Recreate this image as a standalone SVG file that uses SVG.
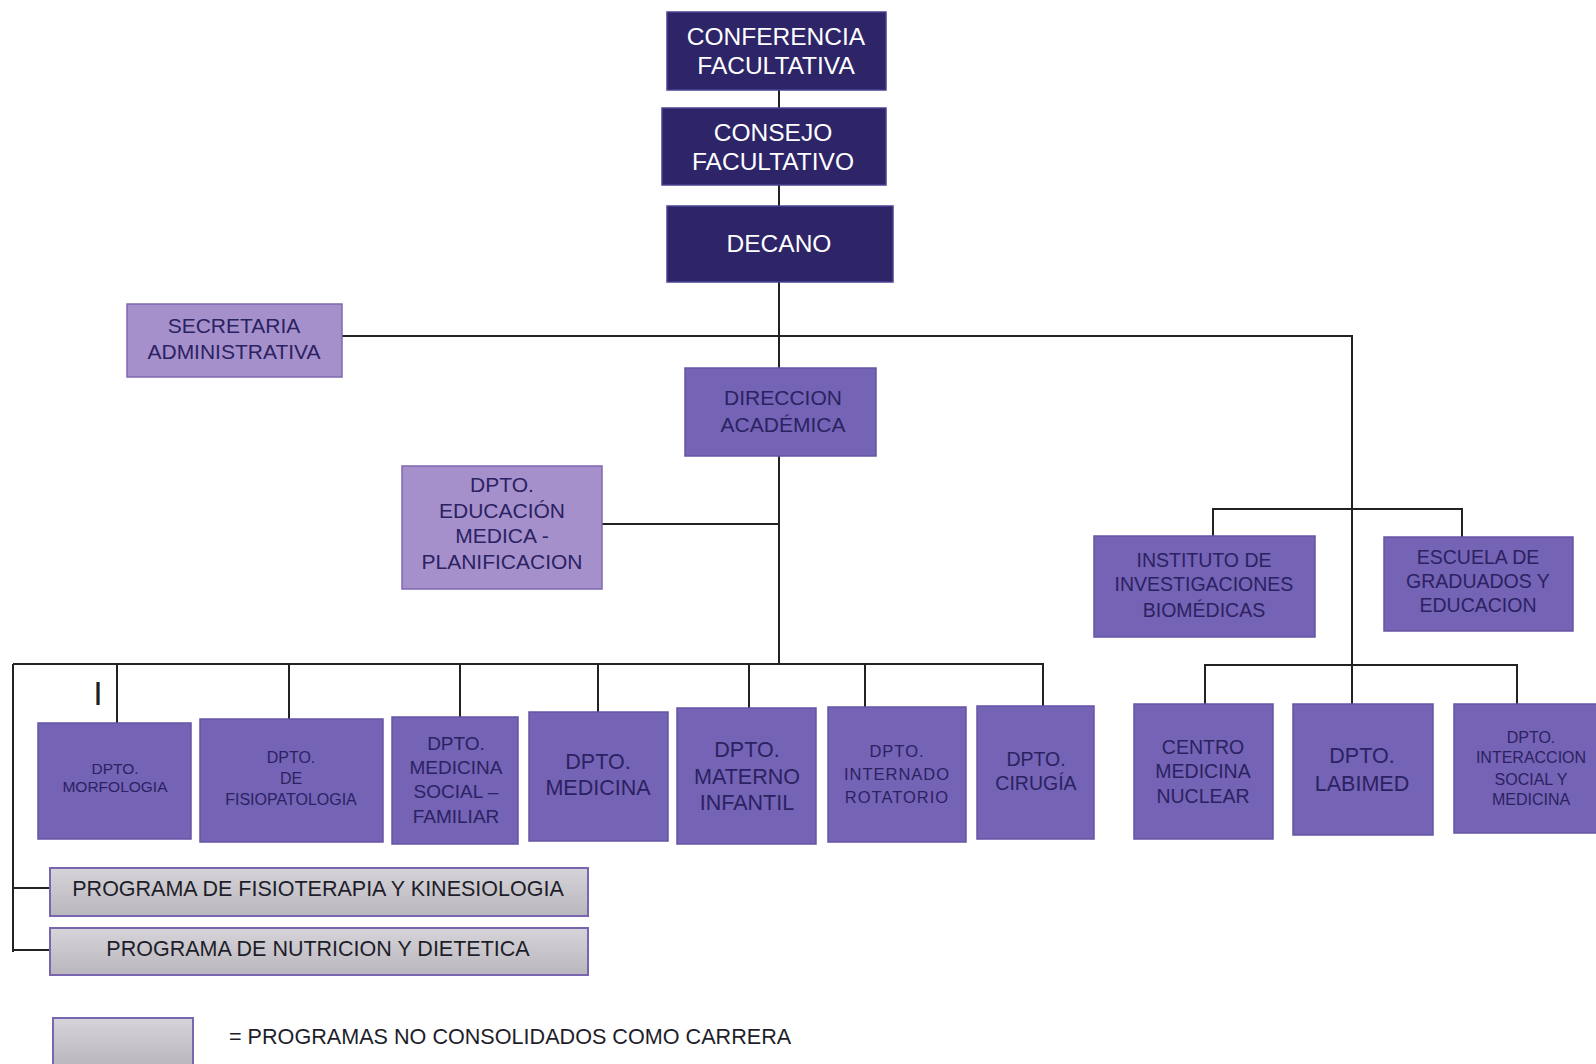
<svg xmlns="http://www.w3.org/2000/svg" width="1596" height="1064" viewBox="0 0 1596 1064">
<defs>
<linearGradient id="gray" x1="0" y1="0" x2="0" y2="1">
<stop offset="0" stop-color="#d6d4d9"/>
<stop offset="1" stop-color="#b9b7bd"/>
</linearGradient>
<style>
text{font-family:"Liberation Sans",Arial,sans-serif;text-anchor:middle;}
.navy rect{fill:#2e2569;stroke:#4a4290;stroke-width:1.5;}
.navy text{fill:#ffffff;font-size:24.5px;}
.mid rect{fill:#7563b5;stroke:#6654a5;stroke-width:1.5;}
.mid text{fill:#2b2262;}
.light rect{fill:#a690cc;stroke:#7f68b0;stroke-width:1.5;}
.light text{fill:#2b2262;font-size:21px;}
.gray rect{fill:url(#gray);stroke:#7a66b0;stroke-width:2;}
.gray text{fill:#1e1e2a;font-size:21.5px;}
#connectors path{fill:none;stroke:#222;stroke-width:2;}
</style>
</defs>
<rect width="1596" height="1064" fill="#ffffff"/>

<g id="connectors">
<path d="M779 90V108M779 185V206M779 282V664"/>
<path d="M342 336H1352V704"/>
<path d="M602 524H779"/>
<path d="M13 664H1043V706"/>
<path d="M117 664V723M289 664V719M460 664V717M598 664V712M749 664V708M865 664V707"/>
<path d="M13 664V952M13 888H50M13 950H50"/>
<path d="M1213 537V509H1462V539"/>
<path d="M1205 704V665H1517V704"/>
</g>

<g id="conferencia" class="navy"><rect x="667" y="12" width="219" height="78"/><text x="776" y="45">CONFERENCIA</text><text x="776" y="74">FACULTATIVA</text></g>
<g id="consejo" class="navy"><rect x="662" y="108" width="224" height="77"/><text x="773" y="141">CONSEJO</text><text x="773" y="170">FACULTATIVO</text></g>
<g id="decano" class="navy"><rect x="667" y="206" width="226" height="76"/><text x="779" y="252">DECANO</text></g>

<g id="secretaria" class="light"><rect x="127" y="304" width="215" height="73"/><text x="234" y="333">SECRETARIA</text><text x="234" y="359">ADMINISTRATIVA</text></g>
<g id="direccion" class="mid"><rect x="685" y="368" width="191" height="88"/><text x="783" y="405" font-size="21">DIRECCION</text><text x="783" y="432" font-size="21">ACADÉMICA</text></g>
<g id="educacion" class="light"><rect x="402" y="466" width="200" height="123"/><text x="502" y="492">DPTO.</text><text x="502" y="518">EDUCACIÓN</text><text x="502" y="543">MEDICA -</text><text x="502" y="569">PLANIFICACION</text></g>

<g id="instituto" class="mid"><rect x="1094" y="536" width="221" height="101"/><text x="1204" y="567" font-size="19.5">INSTITUTO DE</text><text x="1204" y="591" font-size="19.5">INVESTIGACIONES</text><text x="1204" y="617" font-size="19.5">BIOMÉDICAS</text></g>
<g id="escuela" class="mid"><rect x="1384" y="537" width="189" height="94"/><text x="1478" y="564" font-size="19.5">ESCUELA DE</text><text x="1478" y="588" font-size="19.5">GRADUADOS Y</text><text x="1478" y="612" font-size="19.5">EDUCACION</text></g>

<g id="morfologia" class="mid"><rect x="38" y="723" width="153" height="116"/><text x="115" y="774" font-size="15.5">DPTO.</text><text x="115" y="792" font-size="15.5">MORFOLOGIA</text></g>
<g id="fisiopatologia" class="mid"><rect x="200" y="719" width="183" height="123"/><text x="291" y="763" font-size="16">DPTO.</text><text x="291" y="784" font-size="16">DE</text><text x="291" y="805" font-size="16">FISIOPATOLOGIA</text></g>
<g id="medsocial" class="mid"><rect x="392" y="717" width="126" height="127"/><text x="456" y="750" font-size="19">DPTO.</text><text x="456" y="774" font-size="19">MEDICINA</text><text x="456" y="798" font-size="19">SOCIAL –</text><text x="456" y="823" font-size="19">FAMILIAR</text></g>
<g id="medicina" class="mid"><rect x="529" y="712" width="139" height="129"/><text x="598" y="769" font-size="21.5">DPTO.</text><text x="598" y="795" font-size="21.5">MEDICINA</text></g>
<g id="materno" class="mid"><rect x="677" y="708" width="139" height="136"/><text x="747" y="757" font-size="21.5">DPTO.</text><text x="747" y="784" font-size="21.5">MATERNO</text><text x="747" y="810" font-size="21.5">INFANTIL</text></g>
<g id="internado" class="mid"><rect x="828" y="707" width="138" height="135"/><text x="897" y="757" font-size="16.5" letter-spacing="1">DPTO.</text><text x="897" y="780" font-size="16.5" letter-spacing="1">INTERNADO</text><text x="897" y="803" font-size="16.5" letter-spacing="1">ROTATORIO</text></g>
<g id="cirugia" class="mid"><rect x="977" y="706" width="117" height="133"/><text x="1036" y="766" font-size="19.5">DPTO.</text><text x="1036" y="790" font-size="19.5">CIRUGÍA</text></g>

<g id="centro" class="mid"><rect x="1134" y="704" width="139" height="135"/><text x="1203" y="754" font-size="19.5">CENTRO</text><text x="1203" y="778" font-size="19.5">MEDICINA</text><text x="1203" y="803" font-size="19.5">NUCLEAR</text></g>
<g id="labimed" class="mid"><rect x="1293" y="704" width="140" height="131"/><text x="1362" y="763" font-size="21.5">DPTO.</text><text x="1362" y="791" font-size="21.5">LABIMED</text></g>
<g id="interaccion" class="mid"><rect x="1454" y="704" width="145" height="129"/><text x="1531" y="743" font-size="16">DPTO.</text><text x="1531" y="763" font-size="16">INTERACCION</text><text x="1531" y="785" font-size="16">SOCIAL Y</text><text x="1531" y="805" font-size="16">MEDICINA</text></g>

<g id="fisioterapia" class="gray"><rect x="50" y="868" width="538" height="48"/><text x="318" y="896">PROGRAMA DE FISIOTERAPIA Y KINESIOLOGIA</text></g>
<g id="nutricion" class="gray"><rect x="50" y="928" width="538" height="47"/><text x="318" y="956">PROGRAMA DE NUTRICION Y DIETETICA</text></g>

<g id="legend" class="gray"><rect x="53" y="1018" width="140" height="48"/><text x="229" y="1044" style="text-anchor:start;font-size:21.6px">= PROGRAMAS NO CONSOLIDADOS COMO CARRERA</text></g>

<text x="98" y="705" font-size="34" fill="#222">I</text>
</svg>
